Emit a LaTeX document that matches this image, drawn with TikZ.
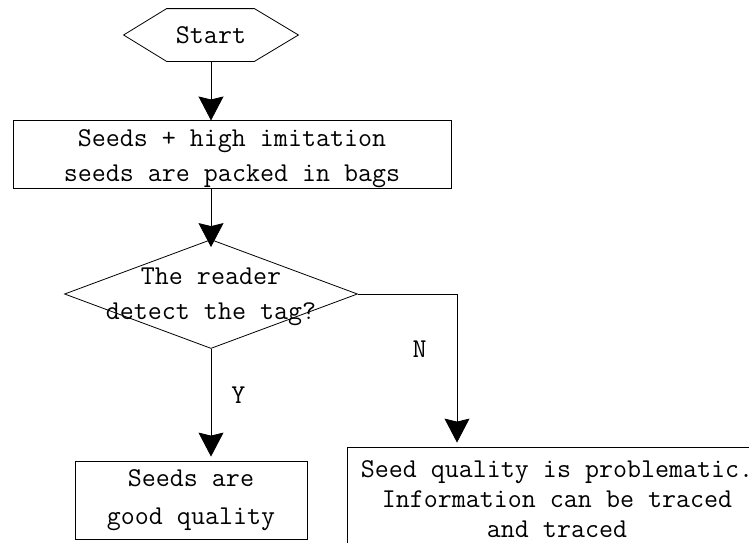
\documentclass[tikz,border=0pt]{standalone}
\usetikzlibrary{arrows.meta,shapes.geometric}
\begin{document}
\begin{tikzpicture}[x=1pt,y=-1pt,line width=0.8pt,
	every node/.style={font=\fontsize{27.2}{35}\selectfont\ttfamily,inner sep=0pt},
	box/.style={draw,minimum width=#1,align=center},
	arr/.style={-{Stealth[length=24pt,width=25pt,inset=3pt]}}]
	\useasboundingbox (0,0) rectangle (749,542);
	\clip (0,0) rectangle (749,542);
	\node[minimum width=174pt,minimum height=52pt] (start) at (211,35) {Start};
	\draw (start.west) -- ([xshift=43pt]start.north west) -- ([xshift=-44pt]start.north east) -- (start.east)
		-- ([xshift=-44pt]start.south east) -- ([xshift=43pt]start.south west) -- cycle;
	\node[box=438pt,minimum height=63pt] (bags) at (232,154.5) {\rule{0pt}{26pt}Seeds + high imitation\\seeds are packed in bags};
	\node[diamond,draw,minimum width=293pt,minimum height=109pt] (ask) at (211,294) {};
	\node[align=center] (asktext) at (211,297) {The reader\\detect the tag?};
	\node[box=232pt,minimum height=78pt] (good) at (191,500) {Seeds are\\[3pt]good quality};
	\node[box=420pt,minimum height=105pt] (bad) at (557,499.5) {Seed quality is problematic.\\[-5pt]Information can be traced\\[-5pt]and traced};
	\coordinate (bend) at (457,294);
	\draw[arr] (start.south) -- (start.south |- bags.north);
	\draw[arr,shorten >=-8pt] (ask.north |- bags.south) -- (ask.north);
	\draw[arr,shorten >=4pt] (ask.south) -- (ask.south |- good.north) node[pos=0.41,right=20pt] {Y};
	\draw[arr,shorten >=4pt] (ask.east) -- (bend) -- (bend |- bad.north) node[pos=0.36,left=30pt] {N};
\end{tikzpicture}
\end{document}
